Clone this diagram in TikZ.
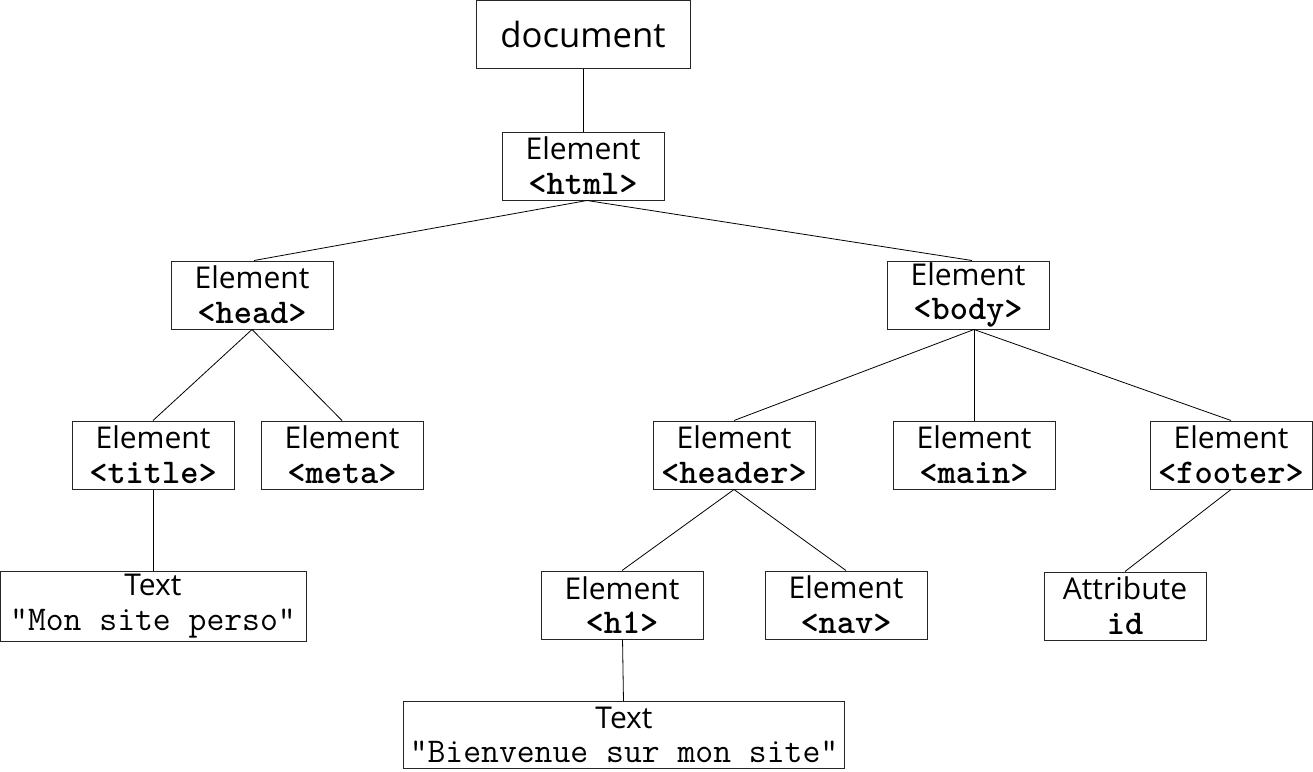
\documentclass[tikz,border=0pt]{standalone}
\usepackage{fontspec}
\setmainfont{Open Sans}
\usetikzlibrary{positioning}
\usepackage{tikz}

\tikzset{
  domnode/.style={draw=black!85, line width=0.75pt, align=center, inner sep=0pt,
    minimum width=121.5pt, minimum height=51pt, font=\fontsize{22.5}{26}\selectfont},
  docnode/.style={domnode, minimum width=160.5pt, font=\fontsize{26}{30}\selectfont},
  link/.style={line width=0.6pt}
}
\newcommand{\monosize}{\fontsize{26}{26}\selectfont}
\newcommand{\tagname}[1]{{\monosize\ttfamily\bfseries <#1>}}
\newcommand{\txtval}[1]{{\monosize\ttfamily "#1"}}

\begin{document}
\begin{tikzpicture}[x=0.75pt, y=-0.75pt]
\useasboundingbox (0,0) rectangle (1313,771);

\node[docnode] (doc) at (583,34) {document};
\node[domnode] (html) at (583,166) {Element\\\tagname{html}};

\node[domnode] (head) at (252,295) {Element\\\tagname{head}};
\node[domnode] (body) at (968,295) {Element\\\tagname{body}};

\node[domnode] (title) at (153,455) {Element\\\tagname{title}};
\node[domnode] (meta) at (342,455) {Element\\\tagname{meta}};
\node[domnode] (header) at (734,455) {Element\\\tagname{header}};
\node[domnode] (main) at (974,455) {Element\\\tagname{main}};
\node[domnode] (footer) at (1231,455) {Element\\\tagname{footer}};

\node[domnode, minimum width=229.5pt, minimum height=52.5pt] (titletext) at (153,606) {Text\\\txtval{Mon site perso}};
\node[domnode] (hone) at (622,605) {Element\\\tagname{h1}};
\node[domnode] (nav) at (846,605) {Element\\\tagname{nav}};
\node[domnode] (attrid) at (1125,606) {Attribute\\{\monosize\ttfamily\bfseries id}};

\node[domnode, minimum width=330.75pt, minimum height=50.25pt] (honetext) at (624,735) {Text\\\txtval{Bienvenue sur mon site}};

% the branches leave html and body a little right of centre
\coordinate (htmlfoot) at ([xshift=3pt]html.south);
\coordinate (bodyfoot) at ([xshift=4.5pt]body.south);

\draw[link] (doc) -- (html);
\draw[link] (htmlfoot) -- ([xshift=1.5pt]head.north);
\draw[link] (htmlfoot) -- ([xshift=3pt]body.north);
\draw[link] (head.south) -- (title.north);
\draw[link] (head.south) -- (meta.north);
\draw[link] (title) -- (titletext);
\draw[link] (bodyfoot) -- (header.north);
\draw[link] (bodyfoot) -- (main.north);
\draw[link] (bodyfoot) -- (footer.north);
\draw[link] (header.south) -- (hone.north);
\draw[link] (header.south) -- (nav.north);
\draw[link] (hone) -- (honetext);
\draw[link] (footer.south) -- (attrid.north);

\end{tikzpicture}
\end{document}
